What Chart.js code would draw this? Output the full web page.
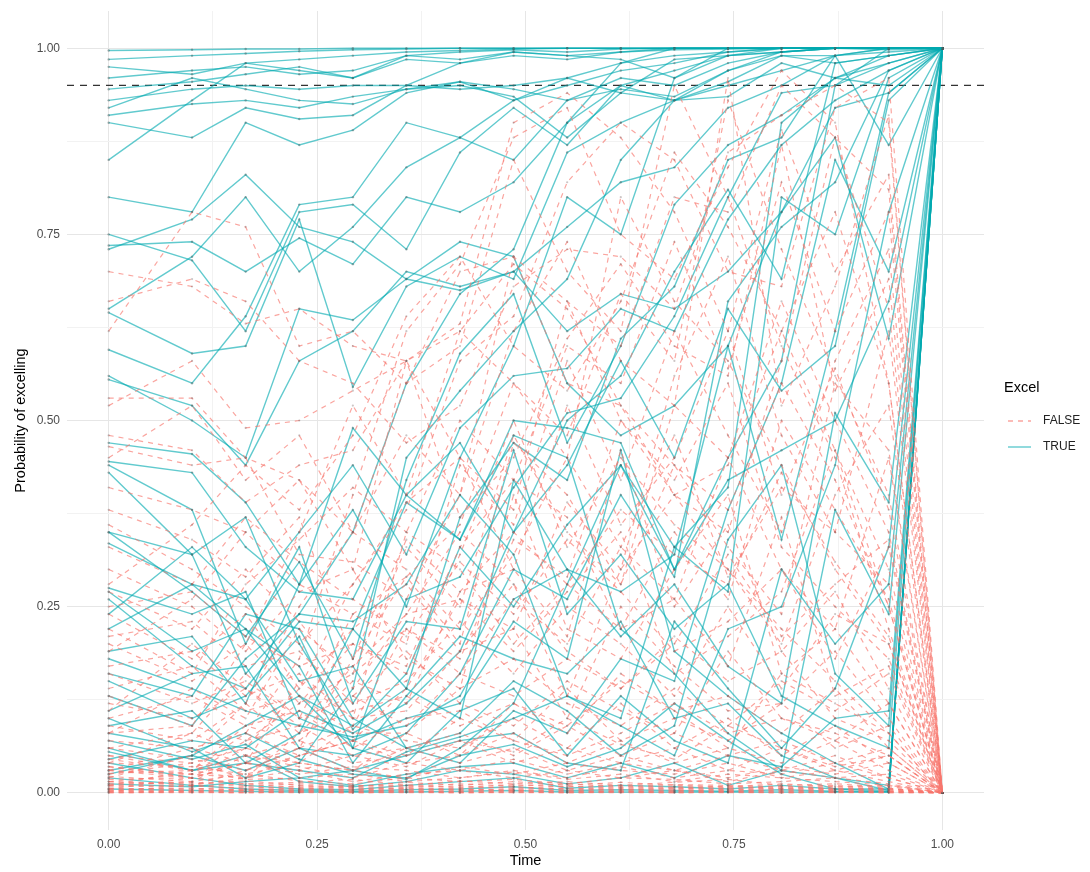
<!DOCTYPE html>
<html>
<head>
<meta charset="utf-8">
<script src="https://cdn.jsdelivr.net/npm/chart.js@4/dist/chart.umd.min.js"></script>
<style>
  html, body { margin: 0; padding: 0; background: #fff; }
  #wrap { width: 1090px; height: 872px; position: relative; }
</style>
</head>
<body>
<div id="wrap"><canvas id="chart"></canvas></div>
<script>
// measurement times
const times = [0, 0.1, 0.1643, 0.2286, 0.2929, 0.3571, 0.4214, 0.4857, 0.55, 0.6143, 0.6786, 0.7429, 0.8071, 0.8714, 0.9357, 1];

// Excel == TRUE trajectories
const excelTrue = [
    [.997,.998,.999,.999,1,1,1,1,1,1,1,1,1,1,1,1],
    [.985,.99,.993,.996,.998,.999,1,1,1,1,1,1,1,1,1,1],
    [.975,.965,.98,.985,.99,.995,.997,.999,1,1,1,1,1,1,1,1],
    [.96,.97,.975,.965,.97,.99,.995,.998,.995,.999,1,1,1,1,1,1],
    [.945,.955,.965,.975,.96,.985,.98,.99,.985,.995,.998,.999,1,1,1,1],
    [.93,.945,.95,.945,.95,.95,.945,.95,.96,.98,.99,.995,1,1,.998,1],
    [.92,.96,.945,.93,.925,.945,.95,.935,.88,.94,.93,.935,.98,.96,.95,1],
    [.91,.925,.93,.92,.935,.945,.955,.945,.93,.945,.935,.97,.99,.99,.995,1],
    [.90,.88,.92,.905,.91,.95,.98,.995,.99,.995,1,1,1,1,1,1],
    [.85,.93,.98,.97,.96,.99,.985,.995,.99,.985,.96,1,1,1,1,1],
    [.80,.78,.90,.87,.89,.94,.955,.93,.96,.94,.985,.99,.995,1,1,1],
    [.75,.715,.62,.78,.79,.73,.86,.92,.87,.95,.93,.955,.99,.98,.99,1],
    [.735,.74,.70,.745,.71,.80,.78,.82,.90,.95,.97,.99,.995,1,1,1],
    [.73,.77,.83,.76,.74,.69,.675,.70,.62,.67,.65,.70,.78,.92,.94,1],
    [.65,.72,.80,.70,.76,.84,.88,.93,.95,.97,.98,.995,1,1,1,1],
    [.645,.59,.60,.77,.545,.68,.72,.69,.86,.90,.93,.95,.97,.99,.87,1],
    [.595,.55,.64,.79,.80,.90,.88,.85,.93,.96,.95,.98,.995,1,1,1],
    [.56,.50,.45,.65,.635,.69,.74,.72,.55,.48,.52,.60,.78,.88,.61,1],
    [.555,.52,.44,.58,.62,.70,.68,.70,.76,.82,.84,.92,.95,.99,1,1],
    [.47,.455,.39,.28,.49,.40,.34,.50,.49,.47,.30,.42,.46,.50,.66,1],
    [.445,.43,.33,.27,.26,.40,.47,.35,.44,.58,.45,.65,.54,.60,.93,1],
    [.44,.38,.20,.33,.12,.23,.22,.46,.24,.32,.22,.28,.13,.09,.06,1],
    [.43,.32,.37,.20,.085,.16,.33,.25,.36,.44,.30,.45,.58,.95,.98,1],
    [.35,.32,.16,.24,.23,.28,.40,.32,.13,.10,.33,.27,.80,.75,.96,1],
    [.335,.28,.22,.13,.09,.14,.10,.42,.30,.27,.32,.60,.34,.62,.94,1],
    [.275,.24,.27,.10,.07,.10,.12,.23,.18,.46,.19,.13,.08,.04,.005,1],
    [.27,.19,.22,.17,.04,.13,.21,.18,.16,.23,.10,.12,.05,.02,.01,1],
    [.26,.17,.14,.23,.22,.39,.34,.48,.45,.22,.16,.08,.03,.38,.24,1],
    [.22,.28,.26,.15,.17,.06,.08,.15,.11,.05,.09,.34,.44,.16,.09,1],
    [.18,.14,.11,.09,.075,.09,.13,.26,.30,.21,.28,.17,.12,.51,.39,1],
    [.15,.10,.13,.21,.06,.04,.11,.14,.05,.13,.07,.04,.30,.20,.28,1],
    [.11,.16,.17,.06,.03,.05,.07,.08,.04,.03,.23,.14,.06,.14,.33,1],
    [.10,.055,.08,.045,.025,.02,.05,.065,.035,.06,.12,.07,.025,.005,.005,1],
    [.09,.11,.04,.03,.02,.055,.075,.10,.13,.09,.05,.22,.25,.44,.78,1],
    [.07,.045,.065,.02,.01,.025,.035,.04,.02,.04,.02,.05,.035,.10,.11,1],
    [.055,.03,.05,.015,.008,.015,.03,.025,.012,.02,.04,.01,.03,.02,.003,1],
    [.04,.02,.01,.005,.004,.01,.015,.02,.006,.01,.008,.005,.01,.005,.002,1],
    [.02,.01,.005,.003,.002,.004,.005,.008,.003,.004,.003,.002,.004,.002,.001,1],
    [.005,.003,.002,.001,.001,.001,.002,.003,.001,.001,.001,.001,.001,.001,.001,1],
    [.13,.09,.18,.24,.35,.55,.67,.73,.90,.98,1,1,1,1,1,1],
    [.08,.06,.02,.04,.14,.45,.54,.62,.69,.85,.93,.97,.995,1,1,1],
    [.19,.21,.12,.28,.38,.25,.45,.60,.80,.75,.96,.99,1,1,1,1],
    [.03,.05,.09,.13,.06,.26,.29,.41,.51,.53,.64,.80,.94,.95,1,1],
    [.06,.03,.04,.08,.22,.14,.37,.47,.42,.61,.68,.85,.88,.99,1,1],
    [.012,.008,.015,.02,.03,.018,.06,.12,.28,.44,.33,.41,.90,.96,.98,1],
    [.025,.05,.03,.06,.05,.08,.16,.30,.26,.40,.29,.66,.76,.82,.97,1],
    [.045,.07,.06,.11,.08,.12,.19,.35,.50,.56,.70,.81,.69,.98,.99,1],
    [.16,.13,.24,.22,.10,.06,.04,.11,.08,.18,.15,.38,.55,.85,.70,1],
    [.24,.33,.26,.35,.44,.32,.49,.56,.57,.65,.62,.77,.87,.93,.97,1],
    [.35,.27,.21,.31,.18,.42,.59,.67,.47,.60,.79,.87,.91,.96,.99,1]
];

// Excel == FALSE trajectories
const excelFalse = [
    [.70,.68,.63,.65,.60,.58,.62,.71,.65,.52,.44,.38,.55,.42,.25,0],
    [.66,.69,.66,.58,.55,.47,.52,.68,.73,.72,.65,.86,.91,.95,.90,0],
    [.62,.78,.76,.60,.62,.55,.70,.72,.66,.60,.80,.78,.95,.88,.81,0],
    [.53,.53,.45,.42,.35,.48,.40,.62,.74,.58,.52,.96,.52,.68,.91,0],
    [.52,.58,.49,.50,.54,.58,.63,.90,.94,.88,.78,.62,.40,.57,.38,0],
    [.48,.46,.39,.44,.46,.58,.37,.45,.61,.71,.60,.56,.87,.54,.69,0],
    [.465,.44,.45,.32,.31,.26,.40,.72,.55,.52,.40,.44,.62,.46,.30,0],
    [.45,.52,.42,.48,.35,.30,.22,.32,.45,.33,.48,.29,.41,.35,.62,0],
    [.41,.38,.35,.28,.24,.29,.20,.47,.40,.28,.44,.33,.24,.55,.46,0],
    [.38,.34,.29,.37,.18,.34,.27,.35,.28,.38,.32,.28,.43,.31,.21,0],
    [.36,.30,.25,.20,.28,.39,.45,.30,.21,.46,.25,.36,.19,.27,.14,0],
    [.33,.28,.37,.31,.26,.21,.31,.24,.34,.27,.19,.23,.30,.18,.33,0],
    [.30,.25,.19,.27,.30,.18,.14,.40,.22,.18,.30,.40,.16,.22,.12,0],
    [.27,.22,.30,.23,.14,.24,.26,.19,.27,.35,.16,.21,.27,.46,.25,0],
    [.25,.27,.21,.17,.20,.17,.33,.42,.37,.22,.26,.17,.37,.13,.17,0],
    [.24,.18,.24,.14,.22,.28,.19,.28,.13,.30,.40,.30,.22,.15,.08,0],
    [.21,.23,.17,.19,.12,.15,.23,.16,.25,.20,.13,.25,.14,.24,.20,0],
    [.20,.15,.20,.12,.16,.22,.16,.13,.18,.14,.21,.15,.19,.10,.07,0],
    [.17,.19,.13,.16,.10,.11,.19,.22,.10,.25,.17,.11,.12,.19,.10,0],
    [.16,.12,.15,.10,.13,.19,.12,.09,.15,.11,.08,.19,.10,.08,.05,0],
    [.14,.17,.11,.13,.08,.08,.14,.18,.12,.09,.14,.09,.15,.11,.16,0],
    [.12,.10,.14,.08,.11,.13,.09,.12,.08,.16,.11,.13,.08,.14,.06,0],
    [.10,.13,.09,.11,.06,.10,.11,.07,.14,.07,.10,.07,.12,.06,.09,0],
    [.09,.07,.12,.06,.09,.07,.06,.10,.06,.12,.06,.10,.05,.09,.04,0],
    [.08,.09,.07,.09,.05,.06,.08,.05,.09,.05,.08,.05,.07,.04,.06,0],
    [.07,.06,.08,.05,.07,.04,.05,.08,.04,.07,.04,.06,.04,.07,.03,0],
    [.06,.08,.05,.07,.04,.05,.07,.04,.06,.04,.06,.03,.06,.03,.05,0],
    [.05,.04,.06,.04,.03,.06,.04,.06,.03,.05,.03,.05,.03,.05,.02,0],
    [.045,.03,.05,.035,.02,.04,.03,.045,.025,.04,.03,.02,.035,.025,.04,0],
    [.04,.035,.025,.04,.03,.02,.035,.025,.04,.03,.025,.04,.02,.03,.015,0],
    [.035,.02,.04,.025,.035,.03,.02,.03,.02,.035,.02,.03,.025,.04,.02,0],
    [.03,.025,.02,.03,.015,.025,.03,.02,.03,.02,.03,.015,.03,.02,.025,0],
    [.026,.03,.018,.02,.025,.015,.02,.028,.018,.025,.015,.025,.02,.015,.01,0],
    [.022,.015,.025,.016,.012,.02,.015,.018,.012,.02,.018,.012,.015,.02,.012,0],
    [.018,.02,.012,.014,.018,.01,.016,.012,.015,.01,.014,.018,.01,.012,.008,0],
    [.015,.012,.016,.01,.008,.014,.01,.015,.01,.014,.01,.008,.012,.008,.01,0],
    [.012,.014,.009,.012,.01,.008,.012,.009,.012,.008,.011,.01,.008,.01,.006,0],
    [.01,.008,.012,.007,.009,.01,.007,.011,.008,.01,.007,.009,.006,.008,.005,0],
    [.008,.01,.006,.009,.006,.007,.009,.006,.009,.006,.008,.006,.008,.005,.006,0],
    [.006,.005,.008,.005,.007,.005,.006,.008,.005,.007,.005,.007,.005,.006,.004,0],
    [.005,.006,.004,.006,.004,.006,.004,.005,.006,.004,.006,.004,.006,.004,.005,0],
    [.004,.003,.005,.003,.005,.003,.005,.003,.004,.005,.003,.005,.003,.004,.003,0],
    [.003,.004,.003,.004,.002,.004,.003,.004,.003,.003,.004,.002,.004,.003,.002,0],
    [.002,.002,.003,.002,.003,.002,.002,.003,.002,.002,.002,.003,.002,.002,.002,0],
    [.001,.002,.001,.002,.001,.002,.001,.002,.001,.002,.001,.002,.001,.001,.001,0],
    [.001,.001,.001,.001,.001,.001,.001,.001,.001,.001,.001,.001,.001,.001,.001,0],
    [0,.001,0,.001,0,.001,0,.001,0,.001,0,.001,0,.001,0,0],
    [0,0,0,0,0,0,0,0,0,0,0,0,0,0,0,0],
    [.02,.05,.12,.25,.35,.55,.60,.85,.70,.62,.95,.80,.60,.45,.22,0],
    [.01,.03,.08,.18,.40,.62,.71,.88,.92,.75,.69,.84,.97,.90,.55,0],
    [.005,.02,.06,.14,.28,.38,.58,.64,.82,.90,.85,.70,.68,.92,.96,0],
    [.03,.06,.04,.15,.10,.35,.50,.42,.60,.55,.74,.57,.82,.62,.78,0],
    [.015,.01,.03,.06,.18,.29,.36,.55,.48,.67,.58,.93,.73,.56,.40,0],
    [.04,.08,.16,.10,.24,.20,.44,.36,.58,.42,.62,.48,.35,.58,.73,0],
    [.025,.04,.02,.08,.15,.12,.27,.30,.52,.36,.45,.62,.89,.70,.83,0],
    [.01,.015,.05,.04,.09,.22,.18,.34,.29,.50,.40,.35,.58,.88,.65,0],
    [.002,.01,.02,.05,.07,.14,.26,.22,.39,.30,.56,.72,.48,.35,.28,0],
    [.035,.025,.07,.12,.20,.16,.32,.50,.33,.45,.36,.30,.20,.40,.52,0],
    [.19,.26,.35,.42,.30,.58,.45,.38,.66,.50,.42,.55,.33,.25,.18,0],
    [.13,.09,.20,.35,.52,.40,.62,.55,.45,.80,.66,.58,.44,.30,.20,0],
    [.08,.14,.10,.22,.16,.33,.25,.48,.35,.28,.52,.45,.66,.50,.35,0],
    [.28,.36,.44,.38,.48,.64,.72,.60,.54,.66,.86,.76,.62,.78,.55,0],
    [.05,.03,.09,.07,.13,.09,.16,.26,.20,.33,.26,.45,.30,.22,.45,0],
    [.22,.16,.28,.34,.41,.35,.30,.20,.28,.22,.35,.26,.50,.38,.26,0],
    [.11,.20,.14,.09,.17,.24,.35,.28,.19,.14,.20,.32,.21,.28,.34,0],
    [.03,.02,.04,.06,.03,.08,.05,.12,.09,.15,.11,.06,.16,.12,.08,0],
    [.015,.025,.04,.03,.05,.035,.07,.055,.10,.065,.045,.09,.06,.035,.05,0],
    [.06,.045,.03,.05,.07,.05,.10,.07,.05,.08,.12,.08,.10,.07,.12,0]
];

const threshold = 0.95;
const majorTicks = [0, 0.25, 0.5, 0.75, 1];
const minorTicks = [0.125, 0.375, 0.625, 0.875];
const legendLabels = ['FALSE', 'TRUE'];

const colorTrue = 'rgba(0, 170, 176, 0.62)';
const colorFalse = 'rgba(248, 118, 109, 0.66)';
const fontFamily = "'Liberation Sans', Arial, Helvetica, sans-serif";

function toPoints(vals) {
    return vals.map((v, i) => ({x: times[i], y: v}));
}

const datasets = [];
excelFalse.forEach(vals => {
    datasets.push({
        data: toPoints(vals),
        borderColor: colorFalse,
        borderWidth: 1.2,
        borderDash: [5, 5],
        pointRadius: 1.1,
        pointBackgroundColor: 'rgba(110, 90, 90, 0.35)',
        pointBorderWidth: 0,
        tension: 0
    });
});
excelTrue.forEach(vals => {
    datasets.push({
        data: toPoints(vals),
        borderColor: colorTrue,
        borderWidth: 1.4,
        pointRadius: 1.2,
        pointBackgroundColor: 'rgba(70, 90, 90, 0.45)',
        pointBorderWidth: 0,
        tension: 0
    });
});
// dashed reference line
datasets.push({
    data: [{x: -0.05, y: threshold}, {x: 1.05, y: threshold}],
    borderColor: '#333333',
    borderWidth: 1.2,
    borderDash: [7, 6],
    pointRadius: 0,
    tension: 0
});

const allTicks = majorTicks.concat(minorTicks).sort((a, b) => a - b);

function gridColor(ctx) {
    return majorTicks.includes(ctx.tick.value) ? '#e6e6e6' : '#f2f2f2';
}

function fixTicks(scale) {
    scale.ticks = allTicks.map(v => ({value: v}));
}

function tickLabel(v) {
    return majorTicks.includes(v) ? v.toFixed(2) : '';
}

const legendPlugin = {
    id: 'excelLegend',
    afterDraw(chart) {
        const ctx = chart.ctx;
        ctx.save();
        ctx.fillStyle = '#000';
        ctx.font = '14.5px ' + fontFamily;
        ctx.textAlign = 'left';
        ctx.textBaseline = 'middle';
        ctx.fillText('Excel', 1004, 388);

        ctx.font = '12px ' + fontFamily;
        ctx.fillStyle = '#222';
        const rows = [
            {label: legendLabels[0], y: 421, color: colorFalse, dash: [5, 5]},
            {label: legendLabels[1], y: 447, color: colorTrue, dash: []}
        ];
        rows.forEach(r => {
            ctx.beginPath();
            ctx.setLineDash(r.dash);
            ctx.strokeStyle = r.color;
            ctx.lineWidth = 1.4;
            ctx.moveTo(1008, r.y);
            ctx.lineTo(1031, r.y);
            ctx.stroke();
            ctx.setLineDash([]);
            ctx.fillText(r.label, 1043, r.y);
        });
        ctx.restore();
    }
};

new Chart(document.getElementById('chart'), {
    type: 'line',
    data: {datasets: datasets},
    options: {
        responsive: true,
        maintainAspectRatio: false,
        animation: false,
        events: [],
        layout: {padding: {left: 0, top: 11, right: 106, bottom: 0}},
        plugins: {
            legend: {display: false},
            tooltip: {enabled: false}
        },
        scales: {
            x: {
                type: 'linear',
                min: -0.05,
                max: 1.05,
                afterBuildTicks: fixTicks,
                afterFit(scale) {
                    scale.height = 42;
                    scale.paddingLeft = 0;
                    scale.paddingRight = 0;
                },
                border: {display: false},
                grid: {color: gridColor, lineWidth: 1, drawTicks: false},
                ticks: {
                    padding: 7,
                    autoSkip: false,
                    maxRotation: 0,
                    color: '#4d4d4d',
                    font: {family: fontFamily, size: 12},
                    callback: tickLabel
                },
                title: {
                    display: true,
                    text: 'Time',
                    color: '#000',
                    padding: {top: 0, bottom: 2},
                    font: {family: fontFamily, size: 14.5}
                }
            },
            y: {
                type: 'linear',
                min: -0.05,
                max: 1.05,
                afterBuildTicks: fixTicks,
                afterFit(scale) {
                    scale.width = 67;
                    scale.paddingTop = 0;
                    scale.paddingBottom = 0;
                },
                border: {display: false},
                grid: {color: gridColor, lineWidth: 1, drawTicks: false},
                ticks: {
                    padding: 7,
                    autoSkip: false,
                    color: '#4d4d4d',
                    font: {family: fontFamily, size: 12},
                    callback: tickLabel
                },
                title: {
                    display: true,
                    text: 'Probability of excelling',
                    color: '#000',
                    padding: {top: 12, bottom: 0},
                    font: {family: fontFamily, size: 14.5}
                }
            }
        }
    },
    plugins: [legendPlugin]
});
</script>
</body>
</html>
